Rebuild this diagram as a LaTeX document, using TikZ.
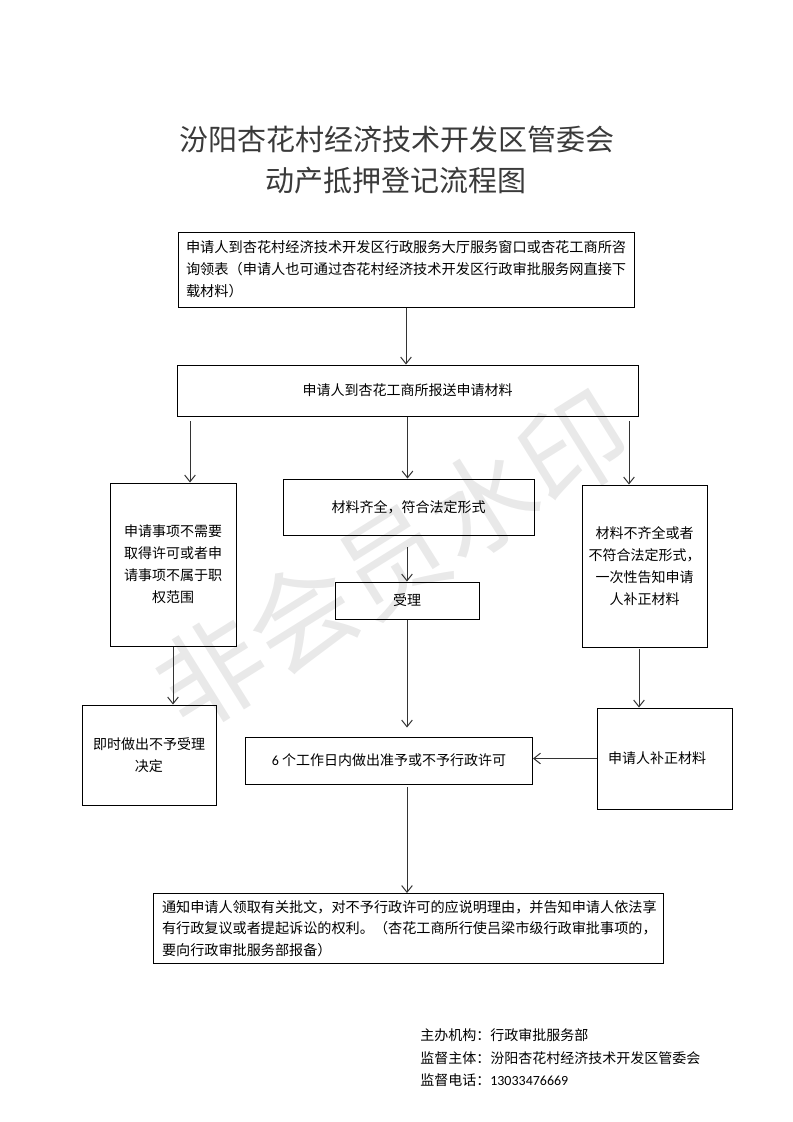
\documentclass[tikz,border=0pt]{standalone}
\usepackage{fontspec}
\setmainfont{Noto Sans CJK SC}
\newfontfamily\digitfont{Carlito}
\usetikzlibrary{arrows.meta,calc}
\definecolor{titlegray}{HTML}{3A3A3A}
\definecolor{arrowgray}{HTML}{333333}
\definecolor{wmgray}{HTML}{E9E9E9}
\begin{document}
\begin{tikzpicture}[x=0.75pt,y=-0.75pt,
  box/.style={draw=black, line width=0.75pt, inner sep=0pt, align=center,
    font=\fontsize{10.5pt}{16.5pt}\selectfont},
  leftbox/.style={box, align=left},
  arr/.style={draw=arrowgray, line width=0.75pt, -{Straight Barb[length=5pt,width=8pt]}},
  titletext/.style={text=titlegray, font=\fontsize{21.75pt}{26pt}\selectfont, inner sep=0pt},
  foot/.style={anchor=west, inner sep=0pt, font=\fontsize{10.5pt}{12pt}\selectfont}]
\useasboundingbox (0,0) rectangle (793,1122);

% watermark
\node[rotate=32, text=wmgray, font=\fontsize{80pt}{80pt}\selectfont, inner sep=0pt] (wm) at (392,560) {非会员水印};

% title
\node[titletext] (t1) at (397,139) {汾阳杏花村经济技术开发区管委会};
\node[titletext] (t2) at (396,181) {动产抵押登记流程图};

% boxes
\node[leftbox, minimum width=342pt, minimum height=56.25pt, text width=330pt, inner xsep=6pt,
  font=\fontsize{10.65pt}{16.5pt}\selectfont] (top) at (406,269.5)
  {申请人到杏花村经济技术开发区行政服务大厅服务窗口或杏花工商所咨\\询领表（申请人也可通过杏花村经济技术开发区行政审批服务网直接下\\载材料）};
\node[box, minimum width=345.75pt, minimum height=38.25pt] (b2) at (407.5,390.5) {申请人到杏花工商所报送申请材料};
\node[box, minimum width=94.5pt, minimum height=122.25pt] (left) at (173,564.5)
  {申请事项不需要\\取得许可或者申\\请事项不属于职\\权范围};
\node[box, minimum width=188.25pt, minimum height=42pt] (mid) at (408.5,507) {材料齐全，符合法定形式};
\node[box, minimum width=93.75pt, minimum height=121.5pt] (right) at (644.5,566)
  {材料不齐全或者\\不符合法定形式，\\一次性告知申请\\人补正材料};
\node[box, minimum width=108pt, minimum height=27.75pt] (acc) at (407,600.5) {受理};
\node[box, minimum width=100.5pt, minimum height=75pt] (imm) at (149,755) {即时做出不予受理\\决定};
\node[box, minimum width=215.25pt, minimum height=35.25pt] (six) at (389,760.5) {{\digitfont 6} 个工作日内做出准予或不予行政许可};
\node[leftbox, minimum width=101.25pt, minimum height=75.75pt, text width=84.75pt, inner xsep=8.25pt] (supp) at (664.5,758.5) {申请人补正材料};
\node[leftbox, minimum width=382.5pt, minimum height=52.5pt, text width=369pt, inner xsep=6.75pt,
  font=\fontsize{10.6pt}{16pt}\selectfont] (final) at (408,928.5)
  {通知申请人领取有关批文，对不予行政许可的应说明理由，并告知申请人依法享\\有行政复议或者提起诉讼的权利。（杏花工商所行使吕梁市级行政审批事项的，\\要向行政审批服务部报备）};

% connectors
\draw[arr] (top.south) -- (top.south |- b2.north);
\coordinate (bl) at (190,421);
\draw[arr] (bl) -- (bl |- left.north);
\draw[arr] (b2.south) -- (b2.south |- mid.north);
\coordinate (br) at (629,421);
\draw[arr] (br) -- (br |- right.north);
\coordinate (mb) at (407,547);
\draw[arr] (mb) -- (mb |- acc.north);
\draw[arr, shorten >=6.75pt] (acc.south) -- (acc.south |- six.north);
\draw[arr] (left.south) -- (left.south |- imm.north);
\coordinate (rb) at (639,649);
\draw[arr] (rb) -- (rb |- supp.north);
\draw[arr] (supp.west) -- (supp.west -| six.east);
\coordinate (sb) at (407,787);
\draw[arr] (sb) -- (sb |- final.north);

% footer
\node[foot] (f1) at (420,1035) {主办机构：行政审批服务部};
\node[foot] (f2) at (420,1058) {监督主体：汾阳杏花村经济技术开发区管委会};
\node[foot] (f3) at (420,1080) {监督电话：{\digitfont 13033476669}};
\end{tikzpicture}
\end{document}
